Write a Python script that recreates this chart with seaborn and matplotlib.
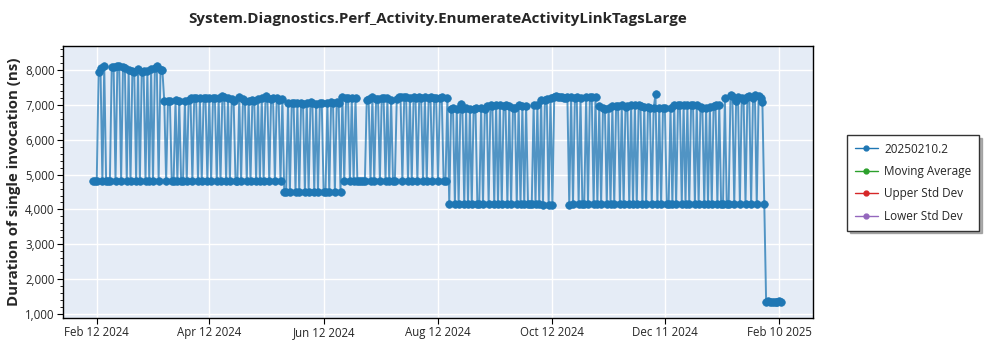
import matplotlib
matplotlib.use("Agg")
import matplotlib.pyplot as plt
import matplotlib.dates as mdates
from matplotlib.ticker import FuncFormatter, MultipleLocator
from matplotlib.lines import Line2D
import seaborn as sns
import pandas as pd

# ---------------- data ----------------
seg_a_start = "2024-02-10"
seg_a = [4820, 4820, 4820, 7950, 8050, 4820, 8120, 4820, 4820, 4820,
         8100, 8080, 4820, 8130, 8110, 4820, 8100, 8050, 4820, 7990,
         4820, 7960, 7950, 4820, 8040, 4820, 7940, 7960, 4820, 7980,
         4820, 8020, 4820, 8060, 8130, 4820, 8000, 7990]

seg_b_start = "2024-03-19"
seg_b = [7120, 4820, 7110, 7120, 4820, 4820, 7130, 4820, 7120, 4820,
         4820, 7110, 4820, 7150, 7190, 4820, 7200, 7210, 4820, 7200,
         4820, 7200, 7190, 4820, 7210, 4820, 7200, 7200, 4820, 7190,
         4820, 7250, 7230, 4820, 7200, 4820, 7180, 7120, 4820, 4820,
         7220, 4820, 7180, 7110, 4820, 7120, 4820, 7130, 7120, 4820,
         7170, 4820, 7200, 4820, 7250, 7210, 4820, 7180, 7200, 4820,
         7210, 7150, 4820, 7180]

seg_c_start = "2024-05-22"
seg_c = [4500, 4500, 7050, 4500, 7040, 7060, 4500, 7050, 4500, 7050,
         7030, 4500, 7060, 4500, 7070, 7050, 4500, 7020, 4500, 7040,
         7050, 4500, 4500, 7060, 4500, 7080, 7040, 4500, 7070, 7060,
         4500]

seg_d_start = "2024-06-22"
seg_d = [7220, 4820, 7200, 7210, 4820, 7190, 4820, 7200, 4820, 4820,
         4820, 4820, 4820, 7150, 7160, 4820, 7220, 4820, 7170, 7180,
         4820, 7210, 7200, 4820, 7190, 4820, 7150, 4820, 4820, 7160,
         7220, 7230, 4820, 7220, 7220, 4820, 7210, 4820, 7220, 7200,
         4820, 7220, 7210, 4820, 7220, 4820, 7200, 7220, 4820, 7210,
         7210, 4820, 7200, 7220, 4820, 4820, 7210]

seg_e_start = "2024-08-18"
seg_e = [4150, 6880, 6900, 4150, 6880, 4150, 7020, 6890, 4150, 6900,
         4150, 6890, 4150, 6880, 6900, 4150, 4150, 6900, 4150, 6890,
         6960, 4150, 6990, 6980, 4150, 7000, 4150, 6990, 4150, 6980,
         6990, 4150, 6960, 4150, 6920, 6910, 4150, 6990, 4150, 6960,
         4150, 6980, 4150, 4150, 4150, 6990, 4150, 7010, 4150, 7150,
         4130, 7140, 7160, 4130, 7200, 4130, 7230, 7250, 7240, 7230,
         7220, 7200, 7210, 7220, 4120, 7220, 4150, 7200, 7230, 4150,
         7210, 4150, 4150, 7220, 4150, 7230, 7240, 4150, 7230, 4150,
         6960, 4150, 6900, 6890, 4150, 6900, 4150, 6960, 4150, 6970,
         6980, 4150, 7000, 4150, 6950, 6960, 4150, 6990, 4150, 7000,
         4150, 6990, 6960, 4150, 6930, 4150, 6940, 6920, 4150, 6900,
         7300, 4150, 6910, 4150, 6900, 6920, 4150, 4150, 6910, 4150,
         6990, 4150, 7000, 7000, 4150, 6990, 4150, 7000, 4150, 7000,
         7010, 4150, 6990, 4150, 6950, 6920, 4150, 6900, 4150, 6950,
         4150, 6980, 6990, 4150, 7000, 4150, 4150, 7200, 4150, 4150,
         7280, 7250, 4150, 7100, 7230, 4150, 7200, 7140, 4150, 7230,
         7250, 4150, 7200, 7280, 4150, 7260, 7200, 7080, 4150]

seg_f_start = "2025-02-03"
seg_f = [1350, 1360, 1340, 1350, 1355, 1350, 1345, 1360, 1350]

series_name = "20250210.2"
legend_labels = [series_name, "Moving Average", "Upper Std Dev", "Lower Std Dev"]
legend_colors = ["#1f77b4", "#2ca02c", "#d62728", "#9467bd"]
x_tick_dates = ["2024-02-12", "2024-04-12", "2024-06-12", "2024-08-12",
                "2024-10-12", "2024-12-11", "2025-02-10"]
y_ticks = [1000, 2000, 3000, 4000, 5000, 6000, 7000, 8000]
title = "System.Diagnostics.Perf_Activity.EnumerateActivityLinkTagsLarge"
y_label = "Duration of single invocation (ns)"

# ---------------- build frame ----------------
parts = []
for start, vals in [(seg_a_start, seg_a), (seg_b_start, seg_b), (seg_c_start, seg_c),
                    (seg_d_start, seg_d), (seg_e_start, seg_e), (seg_f_start, seg_f)]:
    parts.append(pd.DataFrame({"date": pd.date_range(start, periods=len(vals), freq="D"),
                               "value": vals}))
df = pd.concat(parts, ignore_index=True)

# ---------------- style ----------------
sns.set_style("darkgrid", {"axes.facecolor": "#e5ecf6", "grid.color": "white",
                           "axes.edgecolor": "black"})
plt.rcParams["font.family"] = ["Open Sans", "DejaVu Sans"]

fig = plt.figure(figsize=(10, 3.5), dpi=100)
ax = fig.add_axes([0.063, 0.0914, 0.75, 0.7772])

blue = legend_colors[0]
sns.lineplot(data=df, x="date", y="value", ax=ax, color=blue, linewidth=1.4,
             alpha=0.75, estimator=None, sort=False)
sns.scatterplot(data=df, x="date", y="value", ax=ax, color=blue, s=30,
                edgecolor=blue, linewidth=0.5, alpha=1.0, zorder=3)

ax.set_xlim(pd.Timestamp("2024-01-25"), pd.Timestamp("2025-02-28"))
ax.set_ylim(885, 8690)

ax.set_xticks([pd.Timestamp(d) for d in x_tick_dates])
ax.xaxis.set_major_formatter(mdates.DateFormatter("%b %d %Y"))
ax.set_yticks(y_ticks)
ax.yaxis.set_minor_locator(MultipleLocator(200))
ax.yaxis.set_major_formatter(FuncFormatter(lambda v, p: f"{int(v):,}"))
ax.grid(True, which="major", color="white", linewidth=1)
ax.grid(False, which="minor")

for s in ax.spines.values():
    s.set_visible(True)
    s.set_color("black")
    s.set_linewidth(1)

ax.tick_params(axis="both", which="major", labelsize=8.3, length=4, width=0.8,
               color="black", bottom=True, left=True, pad=2)
ax.tick_params(axis="y", which="minor", length=2, width=0.6, color="black", left=True)

ax.set_xlabel("")
ax.set_ylabel(y_label, fontsize=10.8, fontweight="bold", labelpad=3)
fig.text(0.438, 0.947, title, ha="center", va="center", fontsize=10.9, fontweight="bold")

handles = [Line2D([], [], color=c, marker="o", markersize=3.5, linewidth=1) for c in legend_colors]
leg = fig.legend(handles, legend_labels, loc="center left", bbox_to_anchor=(0.841, 0.478),
                 fontsize=8.5, frameon=True, fancybox=False,
                 shadow={"color": "0.55", "alpha": 0.7},
                 edgecolor="#333333", handlelength=2, labelspacing=0.8, borderpad=0.65,
                 handletextpad=0.5)
leg.get_frame().set_linewidth(1)
leg.get_frame().set_facecolor("white")

fig.savefig("out.png", dpi=100)
